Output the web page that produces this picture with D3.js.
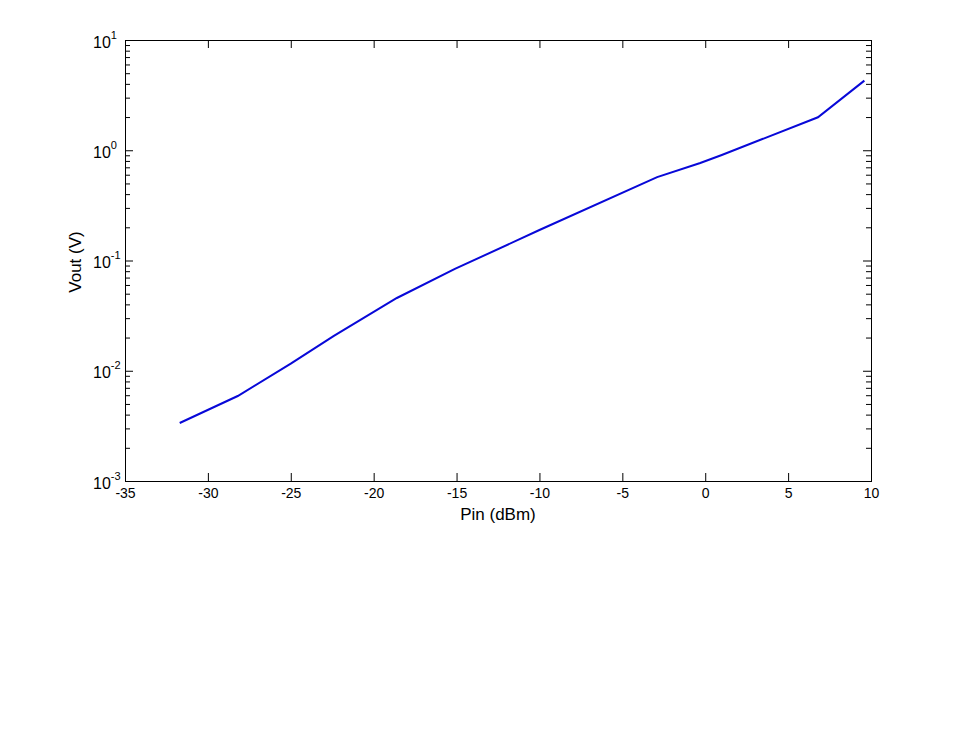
<!DOCTYPE html>
<html>
<head>
<meta charset="utf-8">
<script src="https://cdn.jsdelivr.net/npm/d3@7"></script>
<style>
  body { margin: 0; background: #fff; }
  text { font-family: Arial, "Liberation Sans", sans-serif; fill: #000; }
</style>
</head>
<body>
<div id="chart"></div>
<script>
// measured curve: input power (dBm) vs output voltage (V)
const pin = [-31.7, -28.2, -25, -22.4, -18.6, -15.1, -10, -2.9, -0.3, 1, 6.8, 9.6];
const vout = [0.00336, 0.0059, 0.0116, 0.0207, 0.0457, 0.0838, 0.189, 0.571, 0.766, 0.906, 1.99, 4.28];

const xTicks = [-35, -30, -25, -20, -15, -10, -5, 0, 5, 10];
const yDecades = [1e-3, 1e-2, 1e-1, 1e0, 1e1];
const yExponents = ["-3", "-2", "-1", "0", "1"];

const breedte = 962, hoogte = 736;
const rand = { links: 125, rechts: 871, boven: 40, beneden: 481 };
const lettertype = "Arial, 'Liberation Sans', sans-serif";

const svg = d3.select("#chart")
    .append("svg")
    .attr("width", breedte)
    .attr("height", hoogte);

const x = d3.scaleLinear().domain([-35, 10]).range([rand.links, rand.rechts]);
const y = d3.scaleLog().domain([1e-3, 10]).range([rand.beneden, rand.boven]);

// minor ticks for the log axis: 2..9 within each decade
const minor = [];
yDecades.slice(0, -1).forEach(d => {
    for (let k = 2; k <= 9; k++) minor.push(d * k);
});

const plotW = rand.rechts - rand.links, plotH = rand.beneden - rand.boven;

// bottom axis (plain hyphen for negatives, like the original)
svg.append("g")
    .attr("transform", `translate(0,${rand.beneden})`)
    .call(d3.axisBottom(x).tickValues(xTicks).tickSize(-8).tickPadding(7)
        .tickSizeOuter(0).tickFormat(d => String(d)))
    .call(g => g.select(".domain").remove())
    .call(g => g.selectAll("text").attr("font-size", 14).attr("font-family", lettertype));

// top axis (ticks only)
svg.append("g")
    .attr("transform", `translate(0,${rand.boven})`)
    .call(d3.axisTop(x).tickValues(xTicks).tickSize(-8).tickFormat("").tickSizeOuter(0))
    .call(g => g.select(".domain").remove());

// left axis, major
const yLeft = svg.append("g")
    .attr("transform", `translate(${rand.links},0)`)
    .call(d3.axisLeft(y).tickValues(yDecades).tickSize(-8).tickFormat("").tickSizeOuter(0))
    .call(g => g.select(".domain").remove());

yLeft.selectAll(".tick").each(function (d, i) {
    const t = d3.select(this).append("text")
        .attr("x", -32)
        .attr("y", 7)
        .attr("text-anchor", "start")
        .attr("font-size", 16)
        .attr("font-family", lettertype)
        .attr("fill", "#000");
    t.append("tspan").text("10");
    t.append("tspan").attr("dy", -9).attr("font-size", 11).text(yExponents[i]);
});

// left axis, minor
svg.append("g")
    .attr("transform", `translate(${rand.links},0)`)
    .call(d3.axisLeft(y).tickValues(minor).tickSize(-5).tickFormat("").tickSizeOuter(0))
    .call(g => g.select(".domain").remove());

// right axis, major + minor
svg.append("g")
    .attr("transform", `translate(${rand.rechts},0)`)
    .call(d3.axisRight(y).tickValues(yDecades).tickSize(-8).tickFormat("").tickSizeOuter(0))
    .call(g => g.select(".domain").remove());
svg.append("g")
    .attr("transform", `translate(${rand.rechts},0)`)
    .call(d3.axisRight(y).tickValues(minor).tickSize(-5).tickFormat("").tickSizeOuter(0))
    .call(g => g.select(".domain").remove());

// box
svg.append("rect")
    .attr("x", rand.links + 0.5)
    .attr("y", rand.boven + 0.5)
    .attr("width", plotW)
    .attr("height", plotH)
    .attr("fill", "none")
    .attr("stroke", "#000")
    .attr("stroke-width", 1);

// curve
const lijn = d3.line()
    .x((d, i) => x(pin[i]))
    .y(d => y(d));

svg.append("path")
    .datum(vout)
    .attr("d", lijn)
    .attr("fill", "none")
    .attr("stroke", "#0808d8")
    .attr("stroke-width", 2);

// axis labels
svg.append("text")
    .attr("x", (rand.links + rand.rechts) / 2)
    .attr("y", 520)
    .attr("text-anchor", "middle")
    .attr("font-size", 17)
    .text("Pin (dBm)");

svg.append("text")
    .attr("transform", `translate(81,262) rotate(-90)`)
    .attr("text-anchor", "middle")
    .attr("font-size", 17)
    .text("Vout (V)");
</script>
</body>
</html>
